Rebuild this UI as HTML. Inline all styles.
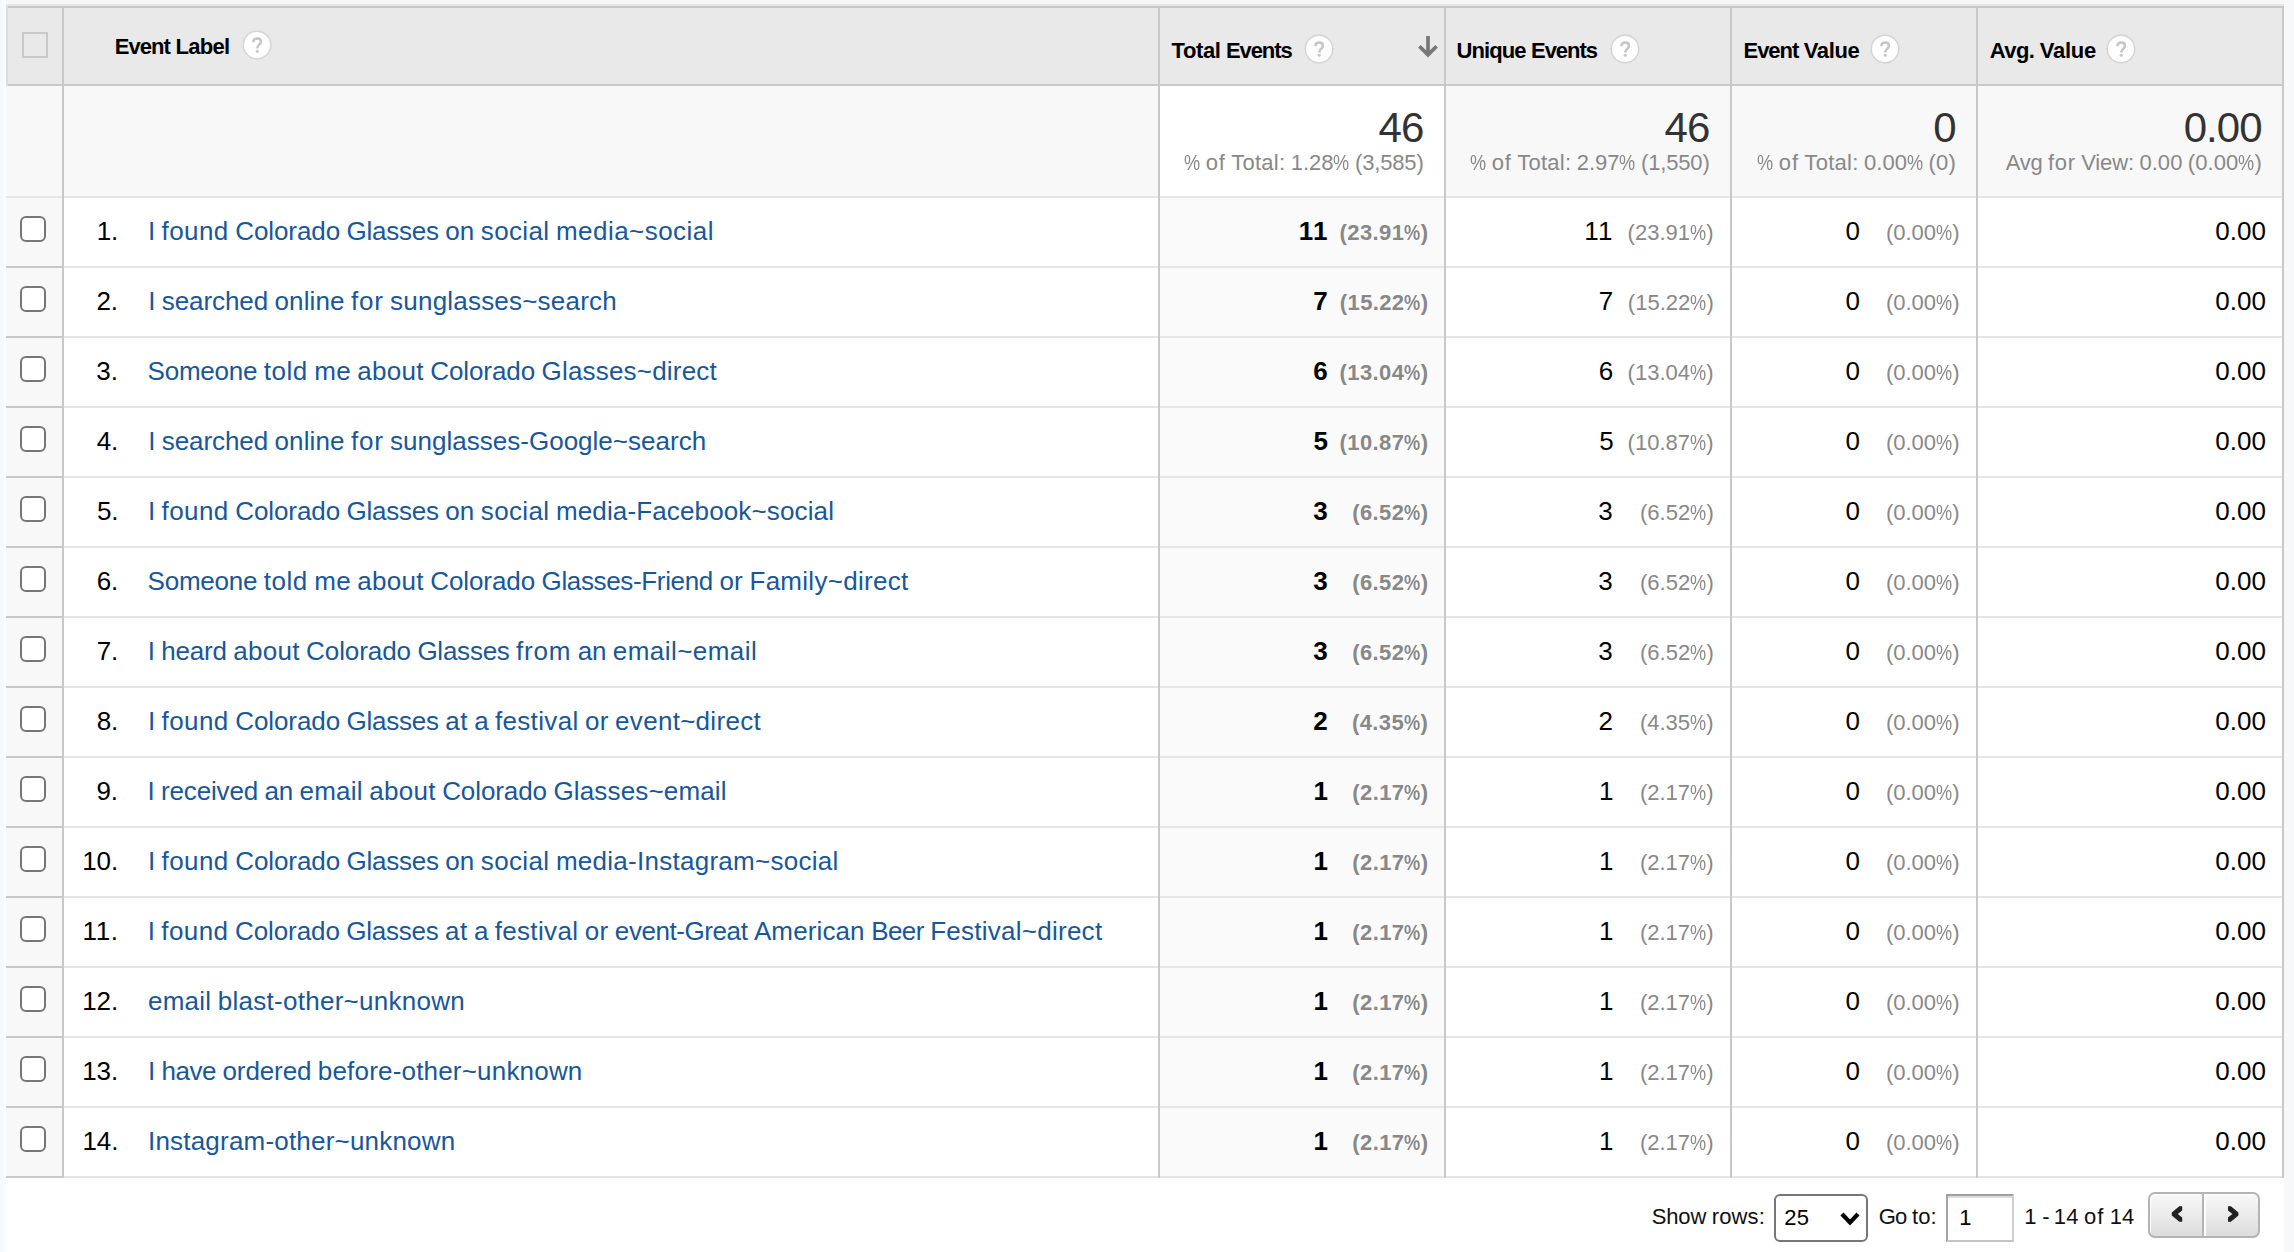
<!DOCTYPE html><html><head><meta charset="utf-8"><title>Events</title><style>
*{box-sizing:border-box;margin:0;padding:0}
html,body{width:2294px;height:1252px;overflow:hidden}
body{background:#f7f8fa;font-family:"Liberation Sans",sans-serif;color:#000;position:relative}
.abs{position:absolute}
.t{position:absolute;white-space:pre;line-height:1}
#panel{left:6px;top:0;width:2278px;height:1252px;background:#fff}
#topstrip{left:6px;top:0;width:2278px;height:4px;background:#f7f7f7}
#lgrad{left:3px;top:0;width:3px;height:1252px;background:#fafbfc}
#hl{left:6px;top:4px;width:2278px;height:2px;background:#e6e6e6}
#hb{left:6px;top:6px;width:2278px;height:2px;background:#c8c8c8}
#head{left:6px;top:8px;width:2278px;height:76px;background:#e9e9e9}
#hbb{left:6px;top:84px;width:2278px;height:2px;background:#c8c8c8}
#tot{left:6px;top:86px;width:2278px;height:110px;background:#f8f8f8}
#totw{left:1160px;top:86px;width:284px;height:110px;background:#fff}
#cbcol{left:6px;top:198px;width:56px;height:980px;background:#f8f8f8}
#sortcol{left:1160px;top:198px;width:284px;height:980px;background:#fafafa}
.hline{left:6px;width:2278px;height:2px;background:#e5e5e5}
.hlinecb{left:6px;width:56px;height:2px;background:#c8c8c8}
.vline{top:8px;width:2px;height:1170px;background:#c8c8c8}
#lb{left:6px;top:6px;width:2px;height:80px;background:#dcdcdc}
.cb{left:20px;width:26px;height:26px;border:2px solid #767676;border-radius:6px;background:#fff}
#hcb{left:22px;top:32px;width:26px;height:26px;border:2px solid #c8c8c8}
.h{font-weight:bold;font-size:22px;color:#000}
.help{width:26px;height:26px;border-radius:50%;background:#fff;box-shadow:0 0 .8px 1.4px #d3d3d3}
.num{font-size:26px;color:#000}
.lnk{font-size:26px;color:#17579a}
.pct{font-size:22px;color:#888}
.b{font-weight:bold}
.big{font-size:40px;color:#333}
.sub{font-size:22px;color:#888}
.pg{font-size:22px;color:#111}
</style></head><body>
<div class="abs" id="lgrad"></div><div class="abs" id="panel"></div><div class="abs" id="topstrip"></div>
<div class="abs" id="hl"></div><div class="abs" id="hb"></div><div class="abs" id="head"></div><div class="abs" id="hbb"></div>
<div class="abs" id="tot"></div><div class="abs" id="totw"></div><div class="abs" id="cbcol"></div><div class="abs" id="sortcol"></div>
<div class="abs hline" style="top:196px"></div>
<div class="abs hline" style="top:266px"></div><div class="abs hlinecb" style="top:266px"></div>
<div class="abs hline" style="top:336px"></div><div class="abs hlinecb" style="top:336px"></div>
<div class="abs hline" style="top:406px"></div><div class="abs hlinecb" style="top:406px"></div>
<div class="abs hline" style="top:476px"></div><div class="abs hlinecb" style="top:476px"></div>
<div class="abs hline" style="top:546px"></div><div class="abs hlinecb" style="top:546px"></div>
<div class="abs hline" style="top:616px"></div><div class="abs hlinecb" style="top:616px"></div>
<div class="abs hline" style="top:686px"></div><div class="abs hlinecb" style="top:686px"></div>
<div class="abs hline" style="top:756px"></div><div class="abs hlinecb" style="top:756px"></div>
<div class="abs hline" style="top:826px"></div><div class="abs hlinecb" style="top:826px"></div>
<div class="abs hline" style="top:896px"></div><div class="abs hlinecb" style="top:896px"></div>
<div class="abs hline" style="top:966px"></div><div class="abs hlinecb" style="top:966px"></div>
<div class="abs hline" style="top:1036px"></div><div class="abs hlinecb" style="top:1036px"></div>
<div class="abs hline" style="top:1106px"></div><div class="abs hlinecb" style="top:1106px"></div>
<div class="abs hline" style="top:1176px"></div><div class="abs hlinecb" style="top:1176px"></div>
<div class="abs vline" style="left:62px"></div>
<div class="abs vline" style="left:1158px"></div>
<div class="abs vline" style="left:1444px"></div>
<div class="abs vline" style="left:1730px"></div>
<div class="abs vline" style="left:1976px"></div>
<div class="abs vline" style="left:2282px"></div>
<div class="abs" id="lb"></div>
<div class="abs" id="hcb"></div>
<div class="t h" style="left:114.75px;top:36.38px;word-spacing:-0.656px;"><span style="letter-spacing:-0.951px">Event</span> <span style="letter-spacing:-0.661px">Label</span></div>
<div class="abs help" style="left:244px;top:32px"></div>
<svg class="abs" style="left:250px;top:36px;filter:blur(.4px)" width="14" height="18" viewBox="0 0 14 18"><path d="M3.4 6.3 C3.4 3.6 5 2.6 7.2 2.6 C9.5 2.6 10.9 3.9 10.9 5.8 C10.9 7.4 10 8.2 8.9 9.1 C7.8 10 7.3 10.8 7.3 12.4" fill="none" stroke="#c5c5c5" stroke-width="2.5"/><circle cx="7.3" cy="15.3" r="1.55" fill="#c5c5c5"/></svg>
<div class="t h" style="left:1171.50px;top:40.38px;word-spacing:-0.656px;"><span style="letter-spacing:-0.398px">Total</span> <span style="letter-spacing:-1.076px">Events</span></div>
<div class="abs help" style="left:1306px;top:36px"></div>
<svg class="abs" style="left:1312px;top:40px;filter:blur(.4px)" width="14" height="18" viewBox="0 0 14 18"><path d="M3.4 6.3 C3.4 3.6 5 2.6 7.2 2.6 C9.5 2.6 10.9 3.9 10.9 5.8 C10.9 7.4 10 8.2 8.9 9.1 C7.8 10 7.3 10.8 7.3 12.4" fill="none" stroke="#c5c5c5" stroke-width="2.5"/><circle cx="7.3" cy="15.3" r="1.55" fill="#c5c5c5"/></svg>
<div class="t h" style="left:1456.50px;top:40.38px;word-spacing:-0.656px;"><span style="letter-spacing:-0.913px">Unique</span> <span style="letter-spacing:-1.046px">Events</span></div>
<div class="abs help" style="left:1612px;top:36px"></div>
<svg class="abs" style="left:1618px;top:40px;filter:blur(.4px)" width="14" height="18" viewBox="0 0 14 18"><path d="M3.4 6.3 C3.4 3.6 5 2.6 7.2 2.6 C9.5 2.6 10.9 3.9 10.9 5.8 C10.9 7.4 10 8.2 8.9 9.1 C7.8 10 7.3 10.8 7.3 12.4" fill="none" stroke="#c5c5c5" stroke-width="2.5"/><circle cx="7.3" cy="15.3" r="1.55" fill="#c5c5c5"/></svg>
<div class="t h" style="left:1743.50px;top:40.38px;word-spacing:-0.656px;"><span style="letter-spacing:-1.031px">Event</span> <span style="letter-spacing:-0.359px">Value</span></div>
<div class="abs help" style="left:1872px;top:36px"></div>
<svg class="abs" style="left:1878px;top:40px;filter:blur(.4px)" width="14" height="18" viewBox="0 0 14 18"><path d="M3.4 6.3 C3.4 3.6 5 2.6 7.2 2.6 C9.5 2.6 10.9 3.9 10.9 5.8 C10.9 7.4 10 8.2 8.9 9.1 C7.8 10 7.3 10.8 7.3 12.4" fill="none" stroke="#c5c5c5" stroke-width="2.5"/><circle cx="7.3" cy="15.3" r="1.55" fill="#c5c5c5"/></svg>
<div class="t h" style="left:1989.75px;top:40.38px;word-spacing:-0.656px;"><span style="letter-spacing:-0.584px">Avg.</span> <span style="letter-spacing:-0.279px">Value</span></div>
<div class="abs help" style="left:2108px;top:36px"></div>
<svg class="abs" style="left:2114px;top:40px;filter:blur(.4px)" width="14" height="18" viewBox="0 0 14 18"><path d="M3.4 6.3 C3.4 3.6 5 2.6 7.2 2.6 C9.5 2.6 10.9 3.9 10.9 5.8 C10.9 7.4 10 8.2 8.9 9.1 C7.8 10 7.3 10.8 7.3 12.4" fill="none" stroke="#c5c5c5" stroke-width="2.5"/><circle cx="7.3" cy="15.3" r="1.55" fill="#c5c5c5"/></svg>
<svg class="abs" style="left:1414px;top:32px" width="28" height="30" viewBox="0 0 28 30"><path d="M14 4 V23 M5.4 14.3 L14 22.9 L22.6 14.3" fill="none" stroke="#777" stroke-width="3.7"/></svg>
<div class="t big" style="right:870.38px;top:107.45px;font-size:42px;word-spacing:-1.750px;"><span style="letter-spacing:-0.825px">46</span></div>
<div class="t sub" style="right:870.41px;top:152.38px;word-spacing:-0.656px;"><span style="display:inline-block;width:16.125px;transform:scaleX(0.8243);transform-origin:0 50%">%</span> <span style="letter-spacing:0.862px">of</span> <span style="letter-spacing:0.250px">Total:</span> <span style="letter-spacing:-0.040px">1.28</span><span style="display:inline-block;width:16.125px;transform:scaleX(0.8243);transform-origin:0 50%">%</span> <span style="letter-spacing:-0.165px">(3,585)</span></div>
<div class="t big" style="right:584.38px;top:107.45px;font-size:42px;word-spacing:-1.750px;"><span style="letter-spacing:-0.825px">46</span></div>
<div class="t sub" style="right:584.41px;top:152.38px;word-spacing:-0.656px;"><span style="display:inline-block;width:16.125px;transform:scaleX(0.8243);transform-origin:0 50%">%</span> <span style="letter-spacing:0.862px">of</span> <span style="letter-spacing:0.250px">Total:</span> <span style="letter-spacing:-0.040px">2.97</span><span style="display:inline-block;width:16.125px;transform:scaleX(0.8243);transform-origin:0 50%">%</span> <span style="letter-spacing:-0.165px">(1,550)</span></div>
<div class="t big" style="right:338.38px;top:107.45px;font-size:42px;word-spacing:-1.750px;"><span style="letter-spacing:-0.875px">0</span></div>
<div class="t sub" style="right:338.06px;top:152.38px;word-spacing:-0.656px;"><span style="display:inline-block;width:16.125px;transform:scaleX(0.8243);transform-origin:0 50%">%</span> <span style="letter-spacing:0.892px">of</span> <span style="letter-spacing:0.280px">Total:</span> <span style="letter-spacing:-0.010px">0.00</span><span style="display:inline-block;width:16.125px;transform:scaleX(0.8243);transform-origin:0 50%">%</span> <span style="letter-spacing:0.194px">(0)</span></div>
<div class="t big" style="right:32.50px;top:107.45px;font-size:42px;word-spacing:-1.750px;"><span style="letter-spacing:-0.998px">0.00</span></div>
<div class="t sub" style="right:31.91px;top:152.38px;word-spacing:-0.656px;"><span style="letter-spacing:-0.276px">Avg</span> <span style="letter-spacing:0.656px">for</span> <span style="letter-spacing:-0.103px">View:</span> <span style="letter-spacing:0.020px">0.00</span> <span style="letter-spacing:0.056px">(0.00</span><span style="display:inline-block;width:16.125px;transform:scaleX(0.8243);transform-origin:0 50%">%</span><span style="letter-spacing:0.344px">)</span></div>
<div class="abs cb" style="top:216px"></div>
<div class="t num" style="right:2175.86px;top:217.99px;word-spacing:-0.781px;"><span style="letter-spacing:-0.109px">1.</span></div>
<div class="t lnk" style="left:148.00px;top:217.99px;word-spacing:-0.781px;"><span style="letter-spacing:-0.156px">I</span> <span style="letter-spacing:0.431px">found</span> <span style="letter-spacing:-0.084px">Colorado</span> <span style="letter-spacing:-0.243px">Glasses</span> <span style="letter-spacing:0.133px">on</span> <span style="letter-spacing:0.362px">social</span> <span style="letter-spacing:0.464px">media~social</span></div>
<div class="t num b" style="right:965.33px;top:217.99px;word-spacing:-0.766px;"><span style="letter-spacing:1.172px">11</span></div>
<div class="t pct b" style="right:865.53px;top:222.08px;word-spacing:-0.656px;"><span style="letter-spacing:0.422px">(23.91</span><span style="display:inline-block;width:16.266px;transform:scaleX(0.8315);transform-origin:0 50%">%</span><span style="letter-spacing:0.466px">)</span></div>
<div class="t num" style="right:680.35px;top:217.99px;word-spacing:-0.781px;"><span style="letter-spacing:1.147px">11</span></div>
<div class="t pct" style="right:580.22px;top:222.08px;word-spacing:-0.656px;"><span style="letter-spacing:0.008px">(23.91</span><span style="display:inline-block;width:16.125px;transform:scaleX(0.8243);transform-origin:0 50%">%</span><span style="letter-spacing:0.284px">)</span></div>
<div class="t num" style="right:433.84px;top:217.99px;word-spacing:-0.781px;"><span style="letter-spacing:0.156px">0</span></div>
<div class="t pct" style="right:334.22px;top:222.08px;word-spacing:-0.656px;"><span style="letter-spacing:-0.004px">(0.00</span><span style="display:inline-block;width:16.125px;transform:scaleX(0.8243);transform-origin:0 50%">%</span><span style="letter-spacing:0.284px">)</span></div>
<div class="t num" style="right:27.98px;top:217.99px;word-spacing:-0.781px;"><span style="letter-spacing:0.023px">0.00</span></div>
<div class="abs cb" style="top:286px"></div>
<div class="t num" style="right:2176.11px;top:287.99px;word-spacing:-0.781px;"><span style="letter-spacing:-0.109px">2.</span></div>
<div class="t lnk" style="left:148.25px;top:287.99px;word-spacing:-0.781px;"><span style="letter-spacing:-0.156px">I</span> <span style="letter-spacing:-0.082px">searched</span> <span style="letter-spacing:0.096px">online</span> <span style="letter-spacing:0.781px">for</span> <span style="letter-spacing:0.203px">sunglasses~search</span></div>
<div class="t num b" style="right:965.80px;top:287.99px;word-spacing:-0.766px;"><span style="letter-spacing:0.453px">7</span></div>
<div class="t pct b" style="right:865.59px;top:292.08px;word-spacing:-0.656px;"><span style="letter-spacing:0.362px">(15.22</span><span style="display:inline-block;width:16.266px;transform:scaleX(0.8315);transform-origin:0 50%">%</span><span style="letter-spacing:0.406px">)</span></div>
<div class="t num" style="right:680.59px;top:287.99px;word-spacing:-0.781px;"><span style="letter-spacing:0.156px">7</span></div>
<div class="t pct" style="right:579.97px;top:292.08px;word-spacing:-0.656px;"><span style="letter-spacing:0.008px">(15.22</span><span style="display:inline-block;width:16.125px;transform:scaleX(0.8243);transform-origin:0 50%">%</span><span style="letter-spacing:0.284px">)</span></div>
<div class="t num" style="right:433.84px;top:287.99px;word-spacing:-0.781px;"><span style="letter-spacing:0.156px">0</span></div>
<div class="t pct" style="right:334.22px;top:292.08px;word-spacing:-0.656px;"><span style="letter-spacing:-0.004px">(0.00</span><span style="display:inline-block;width:16.125px;transform:scaleX(0.8243);transform-origin:0 50%">%</span><span style="letter-spacing:0.284px">)</span></div>
<div class="t num" style="right:27.98px;top:287.99px;word-spacing:-0.781px;"><span style="letter-spacing:0.023px">0.00</span></div>
<div class="abs cb" style="top:356px"></div>
<div class="t num" style="right:2176.05px;top:357.99px;word-spacing:-0.781px;"><span style="letter-spacing:-0.049px">3.</span></div>
<div class="t lnk" style="left:147.50px;top:357.99px;word-spacing:-0.781px;"><span style="letter-spacing:-0.212px">Someone</span> <span style="letter-spacing:0.539px">told</span> <span style="letter-spacing:0.234px">me</span> <span style="letter-spacing:0.269px">about</span> <span style="letter-spacing:-0.084px">Colorado</span> <span style="letter-spacing:0.192px">Glasses~direct</span></div>
<div class="t num b" style="right:965.80px;top:357.99px;word-spacing:-0.766px;"><span style="letter-spacing:0.453px">6</span></div>
<div class="t pct b" style="right:865.53px;top:362.08px;word-spacing:-0.656px;"><span style="letter-spacing:0.422px">(13.04</span><span style="display:inline-block;width:16.266px;transform:scaleX(0.8315);transform-origin:0 50%">%</span><span style="letter-spacing:0.466px">)</span></div>
<div class="t num" style="right:680.59px;top:357.99px;word-spacing:-0.781px;"><span style="letter-spacing:0.156px">6</span></div>
<div class="t pct" style="right:580.22px;top:362.08px;word-spacing:-0.656px;"><span style="letter-spacing:0.008px">(13.04</span><span style="display:inline-block;width:16.125px;transform:scaleX(0.8243);transform-origin:0 50%">%</span><span style="letter-spacing:0.284px">)</span></div>
<div class="t num" style="right:433.84px;top:357.99px;word-spacing:-0.781px;"><span style="letter-spacing:0.156px">0</span></div>
<div class="t pct" style="right:334.22px;top:362.08px;word-spacing:-0.656px;"><span style="letter-spacing:-0.004px">(0.00</span><span style="display:inline-block;width:16.125px;transform:scaleX(0.8243);transform-origin:0 50%">%</span><span style="letter-spacing:0.284px">)</span></div>
<div class="t num" style="right:27.98px;top:357.99px;word-spacing:-0.781px;"><span style="letter-spacing:0.023px">0.00</span></div>
<div class="abs cb" style="top:426px"></div>
<div class="t num" style="right:2175.86px;top:427.99px;word-spacing:-0.781px;"><span style="letter-spacing:-0.109px">4.</span></div>
<div class="t lnk" style="left:148.25px;top:427.99px;word-spacing:-0.781px;"><span style="letter-spacing:-0.156px">I</span> <span style="letter-spacing:-0.082px">searched</span> <span style="letter-spacing:0.096px">online</span> <span style="letter-spacing:0.781px">for</span> <span style="letter-spacing:0.009px">sunglasses-Google~search</span></div>
<div class="t num b" style="right:965.55px;top:427.99px;word-spacing:-0.766px;"><span style="letter-spacing:0.453px">5</span></div>
<div class="t pct b" style="right:865.53px;top:432.08px;word-spacing:-0.656px;"><span style="letter-spacing:0.422px">(10.87</span><span style="display:inline-block;width:16.266px;transform:scaleX(0.8315);transform-origin:0 50%">%</span><span style="letter-spacing:0.466px">)</span></div>
<div class="t num" style="right:680.09px;top:427.99px;word-spacing:-0.781px;"><span style="letter-spacing:0.156px">5</span></div>
<div class="t pct" style="right:580.22px;top:432.08px;word-spacing:-0.656px;"><span style="letter-spacing:0.008px">(10.87</span><span style="display:inline-block;width:16.125px;transform:scaleX(0.8243);transform-origin:0 50%">%</span><span style="letter-spacing:0.284px">)</span></div>
<div class="t num" style="right:433.84px;top:427.99px;word-spacing:-0.781px;"><span style="letter-spacing:0.156px">0</span></div>
<div class="t pct" style="right:334.22px;top:432.08px;word-spacing:-0.656px;"><span style="letter-spacing:-0.004px">(0.00</span><span style="display:inline-block;width:16.125px;transform:scaleX(0.8243);transform-origin:0 50%">%</span><span style="letter-spacing:0.284px">)</span></div>
<div class="t num" style="right:27.98px;top:427.99px;word-spacing:-0.781px;"><span style="letter-spacing:0.023px">0.00</span></div>
<div class="abs cb" style="top:496px"></div>
<div class="t num" style="right:2175.61px;top:497.99px;word-spacing:-0.781px;"><span style="letter-spacing:-0.109px">5.</span></div>
<div class="t lnk" style="left:148.00px;top:497.99px;word-spacing:-0.781px;"><span style="letter-spacing:-0.156px">I</span> <span style="letter-spacing:0.431px">found</span> <span style="letter-spacing:-0.084px">Colorado</span> <span style="letter-spacing:-0.243px">Glasses</span> <span style="letter-spacing:0.133px">on</span> <span style="letter-spacing:0.362px">social</span> <span style="letter-spacing:0.135px">media-Facebook~social</span></div>
<div class="t num b" style="right:965.80px;top:497.99px;word-spacing:-0.766px;"><span style="letter-spacing:0.453px">3</span></div>
<div class="t pct b" style="right:865.53px;top:502.08px;word-spacing:-0.656px;"><span style="letter-spacing:0.419px">(6.52</span><span style="display:inline-block;width:16.266px;transform:scaleX(0.8315);transform-origin:0 50%">%</span><span style="letter-spacing:0.466px">)</span></div>
<div class="t num" style="right:681.09px;top:497.99px;word-spacing:-0.781px;"><span style="letter-spacing:0.156px">3</span></div>
<div class="t pct" style="right:579.92px;top:502.08px;word-spacing:-0.656px;"><span style="letter-spacing:0.046px">(6.52</span><span style="display:inline-block;width:16.125px;transform:scaleX(0.8243);transform-origin:0 50%">%</span><span style="letter-spacing:0.334px">)</span></div>
<div class="t num" style="right:433.84px;top:497.99px;word-spacing:-0.781px;"><span style="letter-spacing:0.156px">0</span></div>
<div class="t pct" style="right:334.22px;top:502.08px;word-spacing:-0.656px;"><span style="letter-spacing:-0.004px">(0.00</span><span style="display:inline-block;width:16.125px;transform:scaleX(0.8243);transform-origin:0 50%">%</span><span style="letter-spacing:0.284px">)</span></div>
<div class="t num" style="right:27.98px;top:497.99px;word-spacing:-0.781px;"><span style="letter-spacing:0.023px">0.00</span></div>
<div class="abs cb" style="top:566px"></div>
<div class="t num" style="right:2175.86px;top:567.99px;word-spacing:-0.781px;"><span style="letter-spacing:-0.109px">6.</span></div>
<div class="t lnk" style="left:147.50px;top:567.99px;word-spacing:-0.781px;"><span style="letter-spacing:-0.212px">Someone</span> <span style="letter-spacing:0.539px">told</span> <span style="letter-spacing:0.234px">me</span> <span style="letter-spacing:0.269px">about</span> <span style="letter-spacing:-0.084px">Colorado</span> <span style="letter-spacing:-0.349px">Glasses-Friend</span> <span style="letter-spacing:0.258px">or</span> <span style="letter-spacing:0.281px">Family~direct</span></div>
<div class="t num b" style="right:965.80px;top:567.99px;word-spacing:-0.766px;"><span style="letter-spacing:0.453px">3</span></div>
<div class="t pct b" style="right:865.53px;top:572.08px;word-spacing:-0.656px;"><span style="letter-spacing:0.419px">(6.52</span><span style="display:inline-block;width:16.266px;transform:scaleX(0.8315);transform-origin:0 50%">%</span><span style="letter-spacing:0.466px">)</span></div>
<div class="t num" style="right:681.09px;top:567.99px;word-spacing:-0.781px;"><span style="letter-spacing:0.156px">3</span></div>
<div class="t pct" style="right:579.92px;top:572.08px;word-spacing:-0.656px;"><span style="letter-spacing:0.046px">(6.52</span><span style="display:inline-block;width:16.125px;transform:scaleX(0.8243);transform-origin:0 50%">%</span><span style="letter-spacing:0.334px">)</span></div>
<div class="t num" style="right:433.84px;top:567.99px;word-spacing:-0.781px;"><span style="letter-spacing:0.156px">0</span></div>
<div class="t pct" style="right:334.22px;top:572.08px;word-spacing:-0.656px;"><span style="letter-spacing:-0.004px">(0.00</span><span style="display:inline-block;width:16.125px;transform:scaleX(0.8243);transform-origin:0 50%">%</span><span style="letter-spacing:0.284px">)</span></div>
<div class="t num" style="right:27.98px;top:567.99px;word-spacing:-0.781px;"><span style="letter-spacing:0.023px">0.00</span></div>
<div class="abs cb" style="top:636px"></div>
<div class="t num" style="right:2175.86px;top:637.99px;word-spacing:-0.781px;"><span style="letter-spacing:-0.109px">7.</span></div>
<div class="t lnk" style="left:147.75px;top:637.99px;word-spacing:-0.781px;"><span style="letter-spacing:-0.156px">I</span> <span style="letter-spacing:-0.203px">heard</span> <span style="letter-spacing:0.269px">about</span> <span style="letter-spacing:-0.084px">Colorado</span> <span style="letter-spacing:-0.243px">Glasses</span> <span style="letter-spacing:0.809px">from</span> <span style="letter-spacing:-0.203px">an</span> <span style="letter-spacing:0.453px">email~email</span></div>
<div class="t num b" style="right:965.80px;top:637.99px;word-spacing:-0.766px;"><span style="letter-spacing:0.453px">3</span></div>
<div class="t pct b" style="right:865.53px;top:642.08px;word-spacing:-0.656px;"><span style="letter-spacing:0.419px">(6.52</span><span style="display:inline-block;width:16.266px;transform:scaleX(0.8315);transform-origin:0 50%">%</span><span style="letter-spacing:0.466px">)</span></div>
<div class="t num" style="right:681.09px;top:637.99px;word-spacing:-0.781px;"><span style="letter-spacing:0.156px">3</span></div>
<div class="t pct" style="right:579.92px;top:642.08px;word-spacing:-0.656px;"><span style="letter-spacing:0.046px">(6.52</span><span style="display:inline-block;width:16.125px;transform:scaleX(0.8243);transform-origin:0 50%">%</span><span style="letter-spacing:0.334px">)</span></div>
<div class="t num" style="right:433.84px;top:637.99px;word-spacing:-0.781px;"><span style="letter-spacing:0.156px">0</span></div>
<div class="t pct" style="right:334.22px;top:642.08px;word-spacing:-0.656px;"><span style="letter-spacing:-0.004px">(0.00</span><span style="display:inline-block;width:16.125px;transform:scaleX(0.8243);transform-origin:0 50%">%</span><span style="letter-spacing:0.284px">)</span></div>
<div class="t num" style="right:27.98px;top:637.99px;word-spacing:-0.781px;"><span style="letter-spacing:0.023px">0.00</span></div>
<div class="abs cb" style="top:706px"></div>
<div class="t num" style="right:2175.86px;top:707.99px;word-spacing:-0.781px;"><span style="letter-spacing:-0.109px">8.</span></div>
<div class="t lnk" style="left:148.00px;top:707.99px;word-spacing:-0.781px;"><span style="letter-spacing:-0.156px">I</span> <span style="letter-spacing:0.431px">found</span> <span style="letter-spacing:-0.084px">Colorado</span> <span style="letter-spacing:-0.243px">Glasses</span> <span style="letter-spacing:0.484px">at</span> <span style="letter-spacing:-0.312px">a</span> <span style="letter-spacing:0.340px">festival</span> <span style="letter-spacing:0.258px">or</span> <span style="letter-spacing:0.289px">event~direct</span></div>
<div class="t num b" style="right:965.80px;top:707.99px;word-spacing:-0.766px;"><span style="letter-spacing:0.453px">2</span></div>
<div class="t pct b" style="right:865.79px;top:712.08px;word-spacing:-0.656px;"><span style="letter-spacing:0.409px">(4.35</span><span style="display:inline-block;width:16.266px;transform:scaleX(0.8315);transform-origin:0 50%">%</span><span style="letter-spacing:0.456px">)</span></div>
<div class="t num" style="right:680.84px;top:707.99px;word-spacing:-0.781px;"><span style="letter-spacing:0.156px">2</span></div>
<div class="t pct" style="right:580.22px;top:712.08px;word-spacing:-0.656px;"><span style="letter-spacing:-0.004px">(4.35</span><span style="display:inline-block;width:16.125px;transform:scaleX(0.8243);transform-origin:0 50%">%</span><span style="letter-spacing:0.284px">)</span></div>
<div class="t num" style="right:433.84px;top:707.99px;word-spacing:-0.781px;"><span style="letter-spacing:0.156px">0</span></div>
<div class="t pct" style="right:334.22px;top:712.08px;word-spacing:-0.656px;"><span style="letter-spacing:-0.004px">(0.00</span><span style="display:inline-block;width:16.125px;transform:scaleX(0.8243);transform-origin:0 50%">%</span><span style="letter-spacing:0.284px">)</span></div>
<div class="t num" style="right:27.98px;top:707.99px;word-spacing:-0.781px;"><span style="letter-spacing:0.023px">0.00</span></div>
<div class="abs cb" style="top:776px"></div>
<div class="t num" style="right:2176.11px;top:777.99px;word-spacing:-0.781px;"><span style="letter-spacing:-0.109px">9.</span></div>
<div class="t lnk" style="left:147.50px;top:777.99px;word-spacing:-0.781px;"><span style="letter-spacing:-0.156px">I</span> <span style="letter-spacing:-0.164px">received</span> <span style="letter-spacing:-0.203px">an</span> <span style="letter-spacing:0.247px">email</span> <span style="letter-spacing:0.269px">about</span> <span style="letter-spacing:-0.084px">Colorado</span> <span style="letter-spacing:0.157px">Glasses~email</span></div>
<div class="t num b" style="right:965.55px;top:777.99px;word-spacing:-0.766px;"><span style="letter-spacing:0.453px">1</span></div>
<div class="t pct b" style="right:865.56px;top:782.08px;word-spacing:-0.656px;"><span style="letter-spacing:0.389px">(2.17</span><span style="display:inline-block;width:16.266px;transform:scaleX(0.8315);transform-origin:0 50%">%</span><span style="letter-spacing:0.436px">)</span></div>
<div class="t num" style="right:680.34px;top:777.99px;word-spacing:-0.781px;"><span style="letter-spacing:0.156px">1</span></div>
<div class="t pct" style="right:580.22px;top:782.08px;word-spacing:-0.656px;"><span style="letter-spacing:-0.004px">(2.17</span><span style="display:inline-block;width:16.125px;transform:scaleX(0.8243);transform-origin:0 50%">%</span><span style="letter-spacing:0.284px">)</span></div>
<div class="t num" style="right:433.84px;top:777.99px;word-spacing:-0.781px;"><span style="letter-spacing:0.156px">0</span></div>
<div class="t pct" style="right:334.22px;top:782.08px;word-spacing:-0.656px;"><span style="letter-spacing:-0.004px">(0.00</span><span style="display:inline-block;width:16.125px;transform:scaleX(0.8243);transform-origin:0 50%">%</span><span style="letter-spacing:0.284px">)</span></div>
<div class="t num" style="right:27.98px;top:777.99px;word-spacing:-0.781px;"><span style="letter-spacing:0.023px">0.00</span></div>
<div class="abs cb" style="top:846px"></div>
<div class="t num" style="right:2175.77px;top:847.99px;word-spacing:-0.781px;"><span style="letter-spacing:-0.021px">10.</span></div>
<div class="t lnk" style="left:148.00px;top:847.99px;word-spacing:-0.781px;"><span style="letter-spacing:-0.156px">I</span> <span style="letter-spacing:0.431px">found</span> <span style="letter-spacing:-0.084px">Colorado</span> <span style="letter-spacing:-0.243px">Glasses</span> <span style="letter-spacing:0.133px">on</span> <span style="letter-spacing:0.362px">social</span> <span style="letter-spacing:0.266px">media-Instagram~social</span></div>
<div class="t num b" style="right:965.55px;top:847.99px;word-spacing:-0.766px;"><span style="letter-spacing:0.453px">1</span></div>
<div class="t pct b" style="right:865.56px;top:852.08px;word-spacing:-0.656px;"><span style="letter-spacing:0.389px">(2.17</span><span style="display:inline-block;width:16.266px;transform:scaleX(0.8315);transform-origin:0 50%">%</span><span style="letter-spacing:0.436px">)</span></div>
<div class="t num" style="right:680.34px;top:847.99px;word-spacing:-0.781px;"><span style="letter-spacing:0.156px">1</span></div>
<div class="t pct" style="right:580.22px;top:852.08px;word-spacing:-0.656px;"><span style="letter-spacing:-0.004px">(2.17</span><span style="display:inline-block;width:16.125px;transform:scaleX(0.8243);transform-origin:0 50%">%</span><span style="letter-spacing:0.284px">)</span></div>
<div class="t num" style="right:433.84px;top:847.99px;word-spacing:-0.781px;"><span style="letter-spacing:0.156px">0</span></div>
<div class="t pct" style="right:334.22px;top:852.08px;word-spacing:-0.656px;"><span style="letter-spacing:-0.004px">(0.00</span><span style="display:inline-block;width:16.125px;transform:scaleX(0.8243);transform-origin:0 50%">%</span><span style="letter-spacing:0.284px">)</span></div>
<div class="t num" style="right:27.98px;top:847.99px;word-spacing:-0.781px;"><span style="letter-spacing:0.023px">0.00</span></div>
<div class="abs cb" style="top:916px"></div>
<div class="t num" style="right:2175.38px;top:917.99px;word-spacing:-0.781px;"><span style="letter-spacing:0.625px">11.</span></div>
<div class="t lnk" style="left:147.75px;top:917.99px;word-spacing:-0.781px;"><span style="letter-spacing:-0.156px">I</span> <span style="letter-spacing:0.431px">found</span> <span style="letter-spacing:-0.084px">Colorado</span> <span style="letter-spacing:-0.243px">Glasses</span> <span style="letter-spacing:0.484px">at</span> <span style="letter-spacing:-0.312px">a</span> <span style="letter-spacing:0.340px">festival</span> <span style="letter-spacing:0.258px">or</span> <span style="letter-spacing:-0.426px">event-Great</span> <span style="letter-spacing:0.121px">American</span> <span style="letter-spacing:-0.582px">Beer</span> <span style="letter-spacing:0.254px">Festival~direct</span></div>
<div class="t num b" style="right:965.55px;top:917.99px;word-spacing:-0.766px;"><span style="letter-spacing:0.453px">1</span></div>
<div class="t pct b" style="right:865.56px;top:922.08px;word-spacing:-0.656px;"><span style="letter-spacing:0.389px">(2.17</span><span style="display:inline-block;width:16.266px;transform:scaleX(0.8315);transform-origin:0 50%">%</span><span style="letter-spacing:0.436px">)</span></div>
<div class="t num" style="right:680.34px;top:917.99px;word-spacing:-0.781px;"><span style="letter-spacing:0.156px">1</span></div>
<div class="t pct" style="right:580.22px;top:922.08px;word-spacing:-0.656px;"><span style="letter-spacing:-0.004px">(2.17</span><span style="display:inline-block;width:16.125px;transform:scaleX(0.8243);transform-origin:0 50%">%</span><span style="letter-spacing:0.284px">)</span></div>
<div class="t num" style="right:433.84px;top:917.99px;word-spacing:-0.781px;"><span style="letter-spacing:0.156px">0</span></div>
<div class="t pct" style="right:334.22px;top:922.08px;word-spacing:-0.656px;"><span style="letter-spacing:-0.004px">(0.00</span><span style="display:inline-block;width:16.125px;transform:scaleX(0.8243);transform-origin:0 50%">%</span><span style="letter-spacing:0.284px">)</span></div>
<div class="t num" style="right:27.98px;top:917.99px;word-spacing:-0.781px;"><span style="letter-spacing:0.023px">0.00</span></div>
<div class="abs cb" style="top:986px"></div>
<div class="t num" style="right:2175.77px;top:987.99px;word-spacing:-0.781px;"><span style="letter-spacing:-0.021px">12.</span></div>
<div class="t lnk" style="left:148.00px;top:987.99px;word-spacing:-0.781px;"><span style="letter-spacing:0.247px">email</span> <span style="letter-spacing:0.262px">blast-other~unknown</span></div>
<div class="t num b" style="right:965.55px;top:987.99px;word-spacing:-0.766px;"><span style="letter-spacing:0.453px">1</span></div>
<div class="t pct b" style="right:865.56px;top:992.08px;word-spacing:-0.656px;"><span style="letter-spacing:0.389px">(2.17</span><span style="display:inline-block;width:16.266px;transform:scaleX(0.8315);transform-origin:0 50%">%</span><span style="letter-spacing:0.436px">)</span></div>
<div class="t num" style="right:680.34px;top:987.99px;word-spacing:-0.781px;"><span style="letter-spacing:0.156px">1</span></div>
<div class="t pct" style="right:580.22px;top:992.08px;word-spacing:-0.656px;"><span style="letter-spacing:-0.004px">(2.17</span><span style="display:inline-block;width:16.125px;transform:scaleX(0.8243);transform-origin:0 50%">%</span><span style="letter-spacing:0.284px">)</span></div>
<div class="t num" style="right:433.84px;top:987.99px;word-spacing:-0.781px;"><span style="letter-spacing:0.156px">0</span></div>
<div class="t pct" style="right:334.22px;top:992.08px;word-spacing:-0.656px;"><span style="letter-spacing:-0.004px">(0.00</span><span style="display:inline-block;width:16.125px;transform:scaleX(0.8243);transform-origin:0 50%">%</span><span style="letter-spacing:0.284px">)</span></div>
<div class="t num" style="right:27.98px;top:987.99px;word-spacing:-0.781px;"><span style="letter-spacing:0.023px">0.00</span></div>
<div class="abs cb" style="top:1056px"></div>
<div class="t num" style="right:2175.77px;top:1057.99px;word-spacing:-0.781px;"><span style="letter-spacing:-0.021px">13.</span></div>
<div class="t lnk" style="left:148.00px;top:1057.99px;word-spacing:-0.781px;"><span style="letter-spacing:-0.156px">I</span> <span style="letter-spacing:-0.473px">have</span> <span style="letter-spacing:-0.107px">ordered</span> <span style="letter-spacing:0.189px">before-other~unknown</span></div>
<div class="t num b" style="right:965.55px;top:1057.99px;word-spacing:-0.766px;"><span style="letter-spacing:0.453px">1</span></div>
<div class="t pct b" style="right:865.56px;top:1062.08px;word-spacing:-0.656px;"><span style="letter-spacing:0.389px">(2.17</span><span style="display:inline-block;width:16.266px;transform:scaleX(0.8315);transform-origin:0 50%">%</span><span style="letter-spacing:0.436px">)</span></div>
<div class="t num" style="right:680.34px;top:1057.99px;word-spacing:-0.781px;"><span style="letter-spacing:0.156px">1</span></div>
<div class="t pct" style="right:580.22px;top:1062.08px;word-spacing:-0.656px;"><span style="letter-spacing:-0.004px">(2.17</span><span style="display:inline-block;width:16.125px;transform:scaleX(0.8243);transform-origin:0 50%">%</span><span style="letter-spacing:0.284px">)</span></div>
<div class="t num" style="right:433.84px;top:1057.99px;word-spacing:-0.781px;"><span style="letter-spacing:0.156px">0</span></div>
<div class="t pct" style="right:334.22px;top:1062.08px;word-spacing:-0.656px;"><span style="letter-spacing:-0.004px">(0.00</span><span style="display:inline-block;width:16.125px;transform:scaleX(0.8243);transform-origin:0 50%">%</span><span style="letter-spacing:0.284px">)</span></div>
<div class="t num" style="right:27.98px;top:1057.99px;word-spacing:-0.781px;"><span style="letter-spacing:0.023px">0.00</span></div>
<div class="abs cb" style="top:1126px"></div>
<div class="t num" style="right:2175.52px;top:1127.99px;word-spacing:-0.781px;"><span style="letter-spacing:-0.021px">14.</span></div>
<div class="t lnk" style="left:148.00px;top:1127.99px;word-spacing:-0.781px;"><span style="letter-spacing:0.201px">Instagram-other~unknown</span></div>
<div class="t num b" style="right:965.55px;top:1127.99px;word-spacing:-0.766px;"><span style="letter-spacing:0.453px">1</span></div>
<div class="t pct b" style="right:865.56px;top:1132.08px;word-spacing:-0.656px;"><span style="letter-spacing:0.389px">(2.17</span><span style="display:inline-block;width:16.266px;transform:scaleX(0.8315);transform-origin:0 50%">%</span><span style="letter-spacing:0.436px">)</span></div>
<div class="t num" style="right:680.34px;top:1127.99px;word-spacing:-0.781px;"><span style="letter-spacing:0.156px">1</span></div>
<div class="t pct" style="right:580.22px;top:1132.08px;word-spacing:-0.656px;"><span style="letter-spacing:-0.004px">(2.17</span><span style="display:inline-block;width:16.125px;transform:scaleX(0.8243);transform-origin:0 50%">%</span><span style="letter-spacing:0.284px">)</span></div>
<div class="t num" style="right:433.84px;top:1127.99px;word-spacing:-0.781px;"><span style="letter-spacing:0.156px">0</span></div>
<div class="t pct" style="right:334.22px;top:1132.08px;word-spacing:-0.656px;"><span style="letter-spacing:-0.004px">(0.00</span><span style="display:inline-block;width:16.125px;transform:scaleX(0.8243);transform-origin:0 50%">%</span><span style="letter-spacing:0.284px">)</span></div>
<div class="t num" style="right:27.98px;top:1127.99px;word-spacing:-0.781px;"><span style="letter-spacing:0.023px">0.00</span></div>
<div class="t pg" style="left:1651.75px;top:1206.38px;word-spacing:-0.656px;"><span style="letter-spacing:-0.145px">Show</span> <span style="letter-spacing:0.141px">rows:</span></div>
<div class="abs" style="left:1774px;top:1194px;width:94px;height:48px;border:2px solid #767676;border-radius:6px;background:#fff"></div>
<div class="t pg" style="left:1784.25px;top:1207.38px;word-spacing:-0.656px;color:#000;"><span style="letter-spacing:0.175px">25</span></div>
<svg class="abs" style="left:1836px;top:1206px" width="28" height="24" viewBox="0 0 28 24"><path d="M6 8 L14 16.5 L22 8" fill="none" stroke="#000" stroke-width="4.2"/></svg>
<div class="t pg" style="left:1878.75px;top:1206.38px;word-spacing:-0.656px;"><span style="letter-spacing:-0.846px">Go</span> <span style="letter-spacing:0.190px">to:</span></div>
<div class="abs" style="left:1946px;top:1194px;width:68px;height:48px;background:#fff;border-top:2px solid #a0a0a0;border-left:2px solid #a4a4a4;border-right:2px solid #cfcfcf;border-bottom:2px solid #c4c4c4"></div>
<div class="abs" style="left:1948px;top:1196px;width:64px;height:2px;background:#dcdcdc"></div>
<div class="t pg" style="left:1959.25px;top:1207.38px;word-spacing:-0.656px;color:#000;"><span style="letter-spacing:0.125px">1</span></div>
<div class="t pg" style="left:2024.30px;top:1206.38px;word-spacing:-0.656px;"><span style="letter-spacing:0.155px">1</span> <span style="letter-spacing:-1.204px">-</span> <span style="letter-spacing:0.155px">14</span> <span style="letter-spacing:0.952px">of</span> <span style="letter-spacing:0.155px">14</span></div>
<div class="abs" style="left:2148px;top:1192px;width:112px;height:46px;border:2px solid #b4b4b4;border-radius:7px;background:linear-gradient(#f9f9f9,#dcdcdc);box-shadow:inset 1px 1px 0 #fff"></div>
<div class="abs" style="left:2202px;top:1194px;width:2px;height:42px;background:#b4b4b4"></div>
<div class="abs" style="left:2204px;top:1194px;width:2px;height:42px;background:#fff"></div>
<svg class="abs" style="left:2166px;top:1200px" width="80" height="28" viewBox="2166 1200 80 28"><polygon points="2179.3,1206.2 2182.2,1206.2 2182.2,1210.6 2177.8,1214 2182.2,1217.4 2182.2,1221.8 2179.3,1221.8 2171.8,1215.4 2171.8,1212.6" fill="#222"/><polygon points="2230.9,1206.2 2228,1206.2 2228,1210.6 2232.4,1214 2228,1217.4 2228,1221.8 2230.9,1221.8 2238.4,1215.4 2238.4,1212.6" fill="#222"/></svg>
</body></html>
